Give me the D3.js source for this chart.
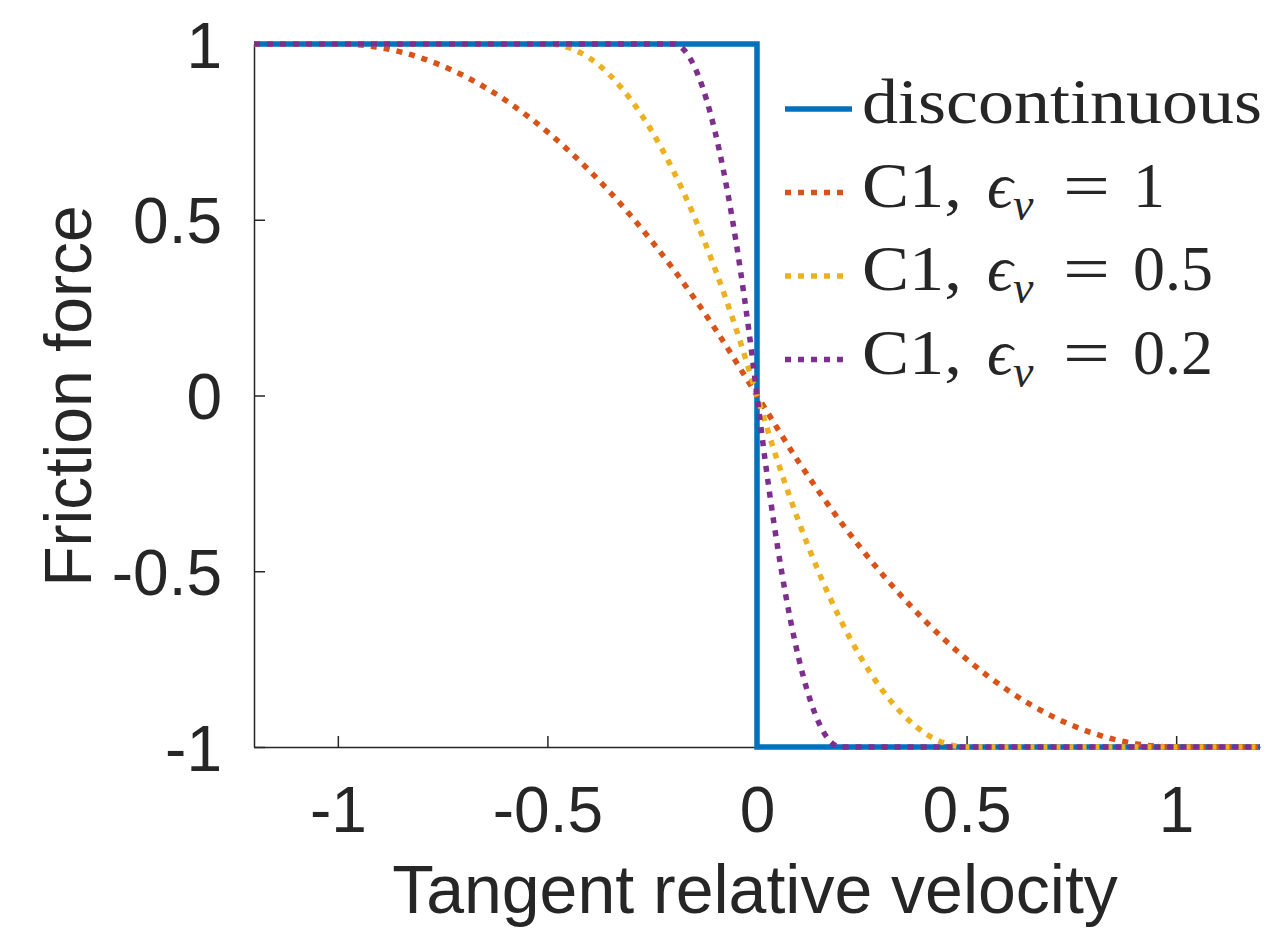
<!DOCTYPE html>
<html>
<head>
<meta charset="utf-8">
<script src="https://cdn.jsdelivr.net/npm/d3@7"></script>
<style>
  body { margin: 0; background: #fff; }
  svg text { fill: #262626; }
</style>
</head>
<body>
<div id="chart"></div>
<script>
// values
const xTicks = [-1, -0.5, 0, 0.5, 1];
const yTicks = [-1, -0.5, 0, 0.5, 1];

const discX = [-1.2, 0, 0, 1.2];
const discY = [1, 1, -1, -1];

const eps1X = [-1.2, -1, -0.9, -0.8, -0.7, -0.6, -0.5, -0.4, -0.3, -0.2, -0.1, 0,
               0.1, 0.2, 0.3, 0.4, 0.5, 0.6, 0.7, 0.8, 0.9, 1, 1.2];
const eps1Y = [1, 1, 0.99, 0.96, 0.91, 0.84, 0.75, 0.64, 0.51, 0.36, 0.19, 0,
               -0.19, -0.36, -0.51, -0.64, -0.75, -0.84, -0.91, -0.96, -0.99, -1, -1];

const eps05X = [-1.2, -0.5, -0.45, -0.4, -0.35, -0.3, -0.25, -0.2, -0.15, -0.1, -0.05, 0,
                0.05, 0.1, 0.15, 0.2, 0.25, 0.3, 0.35, 0.4, 0.45, 0.5, 1.2];
const eps05Y = [1, 1, 0.99, 0.96, 0.91, 0.84, 0.75, 0.64, 0.51, 0.36, 0.19, 0,
                -0.19, -0.36, -0.51, -0.64, -0.75, -0.84, -0.91, -0.96, -0.99, -1, -1];

const eps02X = [-1.2, -0.2, -0.18, -0.16, -0.14, -0.12, -0.1, -0.08, -0.06, -0.04, -0.02, 0,
                0.02, 0.04, 0.06, 0.08, 0.1, 0.12, 0.14, 0.16, 0.18, 0.2, 1.2];
const eps02Y = [1, 1, 0.99, 0.96, 0.91, 0.84, 0.75, 0.64, 0.51, 0.36, 0.19, 0,
                -0.19, -0.36, -0.51, -0.64, -0.75, -0.84, -0.91, -0.96, -0.99, -1, -1];

const seriesLabels = ['discontinuous', '1', '0.5', '0.2'];
const seriesColors = ['#0072BD', '#D95319', '#EDB120', '#7E2F8E'];

const series = [
  { xs: discX, ys: discY, label: seriesLabels[0], color: seriesColors[0], dotted: false },
  { xs: eps1X, ys: eps1Y, label: seriesLabels[1], color: seriesColors[1], dotted: true },
  { xs: eps05X, ys: eps05Y, label: seriesLabels[2], color: seriesColors[2], dotted: true },
  { xs: eps02X, ys: eps02Y, label: seriesLabels[3], color: seriesColors[3], dotted: true }
];

const width = 1277,
    height = 928,
    margin = { top: 44, right: 17, bottom: 181, left: 254 };

const svg = d3.select('#chart').append('svg')
    .attr('width', width)
    .attr('height', height);

const x = d3.scaleLinear().domain([-1.2, 1.2])
    .range([margin.left, width - margin.right]);
const y = d3.scaleLinear().domain([-1, 1])
    .range([height - margin.bottom, margin.top]);

// MATLAB prints a plain hyphen for negatives
const fmt = d => String(d);

// axes, box off, ticks pointing inward
const xAxis = svg.append('g')
    .attr('transform', `translate(0,${height - margin.bottom})`)
    .call(d3.axisBottom(x).tickValues(xTicks).tickSizeInner(-11).tickSizeOuter(0)
        .tickPadding(40).tickFormat(fmt));
const yAxis = svg.append('g')
    .attr('transform', `translate(${margin.left},0)`)
    .call(d3.axisLeft(y).tickValues(yTicks).tickSizeInner(-11).tickSizeOuter(0)
        .tickPadding(32).tickFormat(fmt));

[xAxis, yAxis].forEach(g => {
  g.select('.domain').attr('stroke', '#262626').attr('stroke-width', 1.5);
  g.selectAll('.tick line').attr('stroke', '#262626').attr('stroke-width', 1.5);
  g.selectAll('.tick text')
      .style('font-family', '"Liberation Sans", Arial, sans-serif')
      .style('font-size', '64px')
      .attr('fill', '#262626');
});
xAxis.selectAll('.tick text').attr('dy', '0.71em');
yAxis.selectAll('.tick text').attr('dy', '0.36em');

const line = d3.line()
    .x(d => x(d[0]))
    .y(d => y(d[1]));

const dotDash = '6 7';

series.forEach(s => {
  const pts = s.xs.map((v, i) => [v, s.ys[i]]);
  svg.append('path')
      .datum(pts)
      .attr('fill', 'none')
      .attr('stroke', s.color)
      .attr('stroke-width', 5.5)
      .attr('stroke-dasharray', s.dotted ? dotDash : null)
      .attr('d', line.curve(s.dotted ? d3.curveMonotoneX : d3.curveLinear));
});

// axis titles
svg.append('text')
    .attr('x', 755)
    .attr('y', 913)
    .attr('text-anchor', 'middle')
    .style('font-family', '"Liberation Sans", Arial, sans-serif')
    .style('font-size', '68px')
    .text('Tangent relative velocity');

svg.append('text')
    .attr('transform', 'translate(91,396) rotate(-90)')
    .attr('text-anchor', 'middle')
    .style('font-family', '"Liberation Sans", Arial, sans-serif')
    .style('font-size', '66px')
    .text('Friction force');

// legend (LaTeX interpreter in the original)
const legend = svg.append('g').attr('transform', 'translate(785,123)');
const serif = '"Liberation Serif", "DejaVu Serif", serif';
series.forEach((s, i) => {
  const row = legend.append('g').attr('transform', `translate(0,${i * 83.5})`);
  row.append('line')
      .attr('x1', 0).attr('x2', s.dotted ? 60 : 67)
      .attr('y1', -14).attr('y2', -14)
      .attr('stroke', s.color)
      .attr('stroke-width', 5.5)
      .attr('stroke-dasharray', s.dotted ? dotDash : null);
  const t = (tx, str, opts = {}) => row.append('text')
      .attr('x', tx)
      .attr('y', opts.dy || 0)
      .style('font-family', serif)
      .style('font-size', (opts.size || 64) + 'px')
      .style('font-style', opts.italic ? 'italic' : 'normal')
      .text(str);
  if (i === 0) {
    t(77, s.label).attr('textLength', 400).attr('lengthAdjust', 'spacingAndGlyphs');
  } else {
    t(77, 'C1,').attr('textLength', 100).attr('lengthAdjust', 'spacingAndGlyphs');
    t(202, '\u03F5', { italic: true });
    t(228, 'v', { italic: true, size: 46, dy: 13 });
    t(278, '=').attr('textLength', 47).attr('lengthAdjust', 'spacingAndGlyphs');
    t(348, s.label);
  }
});
</script>
</body>
</html>
